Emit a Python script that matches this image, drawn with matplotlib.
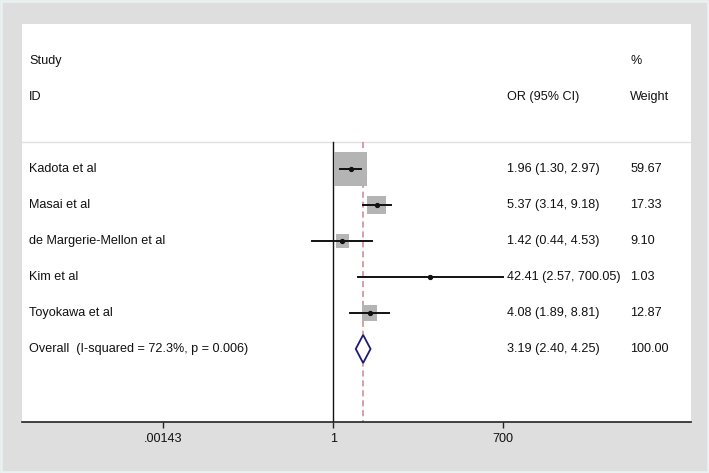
import matplotlib
matplotlib.use("Agg")
import matplotlib.pyplot as plt
from matplotlib.patches import Polygon, Rectangle
import matplotlib.transforms as mtransforms

plt.rcParams['font.family'] = ['Liberation Sans', 'DejaVu Sans']

studies = ["Kadota et al", "Masai et al", "de Margerie-Mellon et al", "Kim et al", "Toyokawa et al"]
or_est = [1.96, 5.37, 1.42, 42.41, 4.08]
ci_low = [1.30, 3.14, 0.44, 2.57, 1.89]
ci_high = [2.97, 9.18, 4.53, 700.05, 8.81]
weights = [59.67, 17.33, 9.10, 1.03, 12.87]

overall_label = "Overall  (I-squared = 72.3%, p = 0.006)"
overall_est = 3.19
overall_low = 2.40
overall_high = 4.25
overall_weight = "100.00"

tick_values = [0.00143, 1, 700]
tick_labels = [".00143", "1", "700"]

W, H = 709, 473
fig = plt.figure(figsize=(W / 100, H / 100), dpi=100, facecolor='#dedede')
fig.patches.append(Rectangle((0.002, 0.002), 0.996, 0.996, transform=fig.transFigure,
                             fill=False, edgecolor='#eaf1f1', linewidth=2))

left, right, top, bottom = 22, 691, 24, 422
ax = fig.add_axes([left / W, (H - bottom) / H, (right - left) / W, (bottom - top) / H])
ax.set_facecolor('white')
ax.set_xscale('log')
ax.set_xlim(6.1e-6, 1.0e6)
ax.set_ylim(7.03, -4.03)

for s in ['top', 'left', 'right']:
    ax.spines[s].set_visible(False)
ax.spines['bottom'].set_color('#222222')
ax.spines['bottom'].set_linewidth(1.2)
ax.set_yticks([])
ax.set_xticks(tick_values)
ax.set_xticklabels(tick_labels)
ax.minorticks_off()

fs = 9.1
tc = '#111111'
ax.tick_params(axis='x', direction='out', length=4, width=1, color='#222222',
               labelsize=fs, labelcolor='#111111', pad=4)
trans = mtransforms.blended_transform_factory(ax.transAxes, ax.transData)

x_id, x_or, x_w = 0.0105, 0.725, 0.909
ax.text(x_id, -3, "Study", transform=trans, fontsize=fs, color=tc, va='center', ha='left')
ax.text(x_id, -2, "ID", transform=trans, fontsize=fs, color=tc, va='center', ha='left')
ax.text(x_or, -2, "OR (95% CI)", transform=trans, fontsize=fs, color=tc, va='center', ha='left')
ax.text(x_w, -3, "%", transform=trans, fontsize=fs, color=tc, va='center', ha='left')
ax.text(x_w, -2, "Weight", transform=trans, fontsize=fs, color=tc, va='center', ha='left')

ax.axhline(-0.75, color='#e0e0e0', linewidth=1.0, zorder=1)

ax.plot([1, 1], [-0.75, 7.03], color='#111111', linewidth=1.0, zorder=2)
ax.plot([overall_est, overall_est], [-0.75, 7.03], color='#c9868e', linewidth=1.1,
        linestyle=(0, (4, 2.5)), zorder=2)

rows = list(range(len(studies)))
ax.scatter(or_est, rows, s=[10.0 * w for w in weights], marker='s', color='#b4b4b4',
           edgecolors='none', zorder=3)
for r, lo, hi in zip(rows, ci_low, ci_high):
    ax.plot([lo, hi], [r, r], color='#111111', linewidth=1.4, zorder=4)
ax.plot(or_est, rows, linestyle='none', marker='o', markersize=2.8, color='#111111', zorder=5)

for r, name, e, lo, hi, w in zip(rows, studies, or_est, ci_low, ci_high, weights):
    ax.text(x_id, r, name, transform=trans, fontsize=fs, color=tc, va='center', ha='left')
    ax.text(x_or, r, f"{e:.2f} ({lo:.2f}, {hi:.2f})", transform=trans, fontsize=fs,
            color=tc, va='center', ha='left')
    ax.text(x_w, r, f"{w:.2f}", transform=trans, fontsize=fs, color=tc, va='center', ha='left')

ro = len(studies)
h = 0.39
diamond = Polygon([(overall_low, ro), (overall_est, ro - h), (overall_high, ro),
                   (overall_est, ro + h)], closed=True, facecolor='white',
                  edgecolor='#1c1c78', linewidth=1.3, zorder=5)
ax.add_patch(diamond)
ax.text(x_id, ro, overall_label, transform=trans, fontsize=fs, color=tc, va='center', ha='left')
ax.text(x_or, ro, f"{overall_est:.2f} ({overall_low:.2f}, {overall_high:.2f})", transform=trans,
        fontsize=fs, color=tc, va='center', ha='left')
ax.text(x_w, ro, overall_weight, transform=trans, fontsize=fs, color=tc, va='center', ha='left')

fig.savefig("out.png", dpi=100, facecolor=fig.get_facecolor())
